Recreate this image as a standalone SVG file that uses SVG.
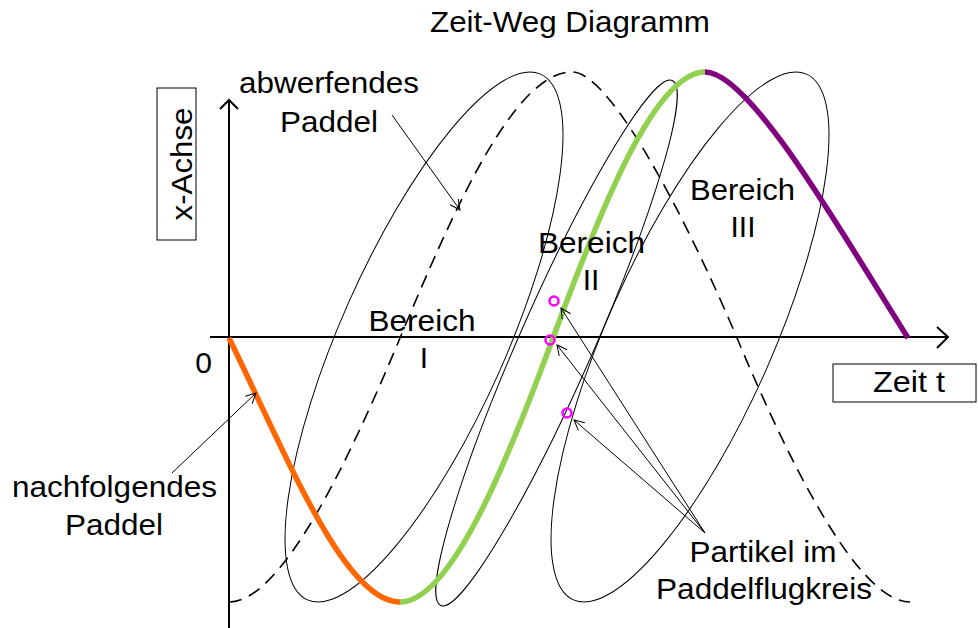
<svg xmlns="http://www.w3.org/2000/svg" width="978" height="628" viewBox="0 0 978 628">
<style>
text{font-family:"Liberation Sans",Arial,sans-serif;font-size:30px;fill:#000}
.t{text-anchor:middle}
.ell{fill:none;stroke:#000;stroke-width:1}
.axis{fill:none;stroke:#000;stroke-width:2}
.dash{fill:none;stroke:#000;stroke-width:1.6;stroke-dasharray:13 8}
.thick{fill:none;stroke-width:5.5;stroke-linecap:butt}
.lead{fill:none;stroke:#000;stroke-width:1;marker-end:url(#open)}
.pt{fill:none;stroke:#FF00FF;stroke-width:2.5}
.box{fill:#fff;stroke:#000;stroke-width:1}
</style>
<defs>
<marker id="open" viewBox="0 0 12 12" refX="11" refY="6" markerWidth="12" markerHeight="12" markerUnits="userSpaceOnUse" orient="auto">
<path d="M1,1 L11,6 L1,11" fill="none" stroke="#000" stroke-width="1"/>
</marker>
</defs>
<rect width="978" height="628" fill="#fff"/>

<g id="axes">
<line class="axis" x1="229" y1="628" x2="229" y2="100"/>
<polyline class="axis" points="220,109 229,100 238,109"/>
<line class="axis" x1="210" y1="337" x2="948" y2="337"/>
<polyline class="axis" points="937,327 948,337 937,348"/>
</g>

<g id="ellipse-bereich-1"><ellipse class="ell" cx="0" cy="0" rx="287.5" ry="82.9" transform="translate(424,337) rotate(-66.1)"/></g>
<g id="ellipse-bereich-2"><ellipse class="ell" cx="0" cy="0" rx="286.9" ry="37.1" transform="translate(556.5,343) rotate(-66.2)"/></g>
<g id="ellipse-bereich-3"><ellipse class="ell" cx="0" cy="0" rx="287.5" ry="82.9" transform="translate(690,337) rotate(-66.1)"/></g>

<g id="curve-abwerfend">
<path class="dash" d="M229,602 C280,602 345,470 400,338 C455,206 515,72 572,72 C615,72 700,250 737,338 C782,445 855,602 910,602"/>
</g>
<g id="curve-nachfolgend">
<path class="thick" stroke="#FF6600" d="M229,338 C289,461 345,602 400,602"/>
<path class="thick" stroke="#92D050" d="M400,602 C450,602 505,468 553,338 C601,208 655,72 705,72"/>
<path class="thick" stroke="#800080" d="M705,72 C750,72 840,230 908,338"/>
</g>

<g id="partikel">
<circle class="pt" cx="554" cy="301" r="4.5"/>
<circle class="pt" cx="550" cy="340" r="4.5"/>
<circle class="pt" cx="567" cy="413" r="4.5"/>
</g>

<g id="connectors">
<line class="lead" x1="392" y1="115" x2="460" y2="210"/>
<line class="lead" x1="172" y1="473" x2="256" y2="393"/>
<line class="lead" x1="705" y1="533" x2="561" y2="308"/>
<line class="lead" x1="705" y1="533" x2="557" y2="345"/>
<line class="lead" x1="705" y1="533" x2="574" y2="420"/>
</g>

<g id="title"><text class="t" x="570" y="32" textLength="280" lengthAdjust="spacingAndGlyphs">Zeit-Weg Diagramm</text></g>
<g id="label-x-achse">
<rect class="box" x="157" y="88" width="39" height="152"/>
<text class="t" transform="translate(192,164) rotate(-90)" textLength="113" lengthAdjust="spacingAndGlyphs">x-Achse</text>
</g>
<g id="label-zeit">
<rect class="box" x="833" y="364" width="143" height="38"/>
<text class="t" x="909" y="392" textLength="72" lengthAdjust="spacingAndGlyphs">Zeit t</text>
</g>
<g id="label-null"><text class="t" x="203.5" y="373">0</text></g>
<g id="label-abwerfend">
<text class="t" x="329" y="93" textLength="180" lengthAdjust="spacingAndGlyphs">abwerfendes</text>
<text class="t" x="329" y="132" textLength="98" lengthAdjust="spacingAndGlyphs">Paddel</text>
</g>
<g id="label-nachfolgend">
<text class="t" x="114.5" y="497" textLength="205" lengthAdjust="spacingAndGlyphs">nachfolgendes</text>
<text class="t" x="114" y="535" textLength="98" lengthAdjust="spacingAndGlyphs">Paddel</text>
</g>
<g id="label-bereich-1">
<text class="t" x="422" y="331" textLength="107" lengthAdjust="spacingAndGlyphs">Bereich</text>
<text class="t" x="424" y="368">I</text>
</g>
<g id="label-bereich-2">
<text class="t" x="591.5" y="253" textLength="107" lengthAdjust="spacingAndGlyphs">Bereich</text>
<text class="t" x="591" y="290">II</text>
</g>
<g id="label-bereich-3">
<text class="t" x="742.5" y="200" textLength="105" lengthAdjust="spacingAndGlyphs">Bereich</text>
<text class="t" x="743" y="237">III</text>
</g>
<g id="label-partikel">
<text class="t" x="763" y="562" textLength="147" lengthAdjust="spacingAndGlyphs">Partikel im</text>
<text class="t" x="764" y="599" textLength="216" lengthAdjust="spacingAndGlyphs">Paddelflugkreis</text>
</g>
</svg>
